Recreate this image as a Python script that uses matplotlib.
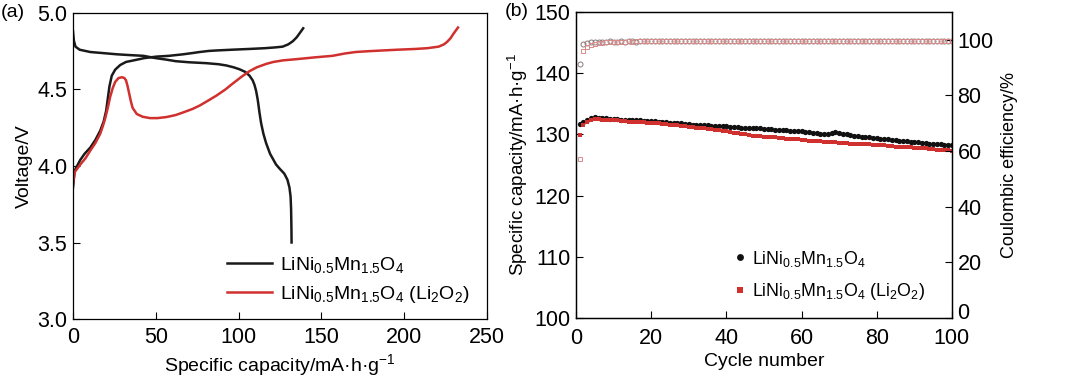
import numpy as np
import matplotlib
matplotlib.use("Agg")
import matplotlib.pyplot as plt
import matplotlib.transforms as mtransforms

plt.rcParams["font.family"] = ["Liberation Sans", "DejaVu Sans"]
plt.rcParams["mathtext.fontset"] = "custom"
plt.rcParams["mathtext.rm"] = "Liberation Sans"
plt.rcParams["mathtext.default"] = "regular"

RED = "#d0302e"

# (a) charge / discharge profiles
lnmo_chg_cap = [0, 1, 4.4, 7, 10.4, 13.5, 16.4, 18.5, 20, 21, 22, 23.4, 25.5, 28.5, 32, 36.5,
                43, 50.5, 58, 66.5, 72, 76.5, 82, 86.6, 96, 106.6, 116, 122, 126.6, 130,
                132.7, 135, 136.7, 139]
lnmo_chg_v = [3.86, 3.97, 4.04, 4.08, 4.12, 4.17, 4.23, 4.29, 4.36, 4.44, 4.52, 4.59, 4.63, 4.66,
              4.68, 4.69, 4.705, 4.715, 4.72, 4.73, 4.738, 4.745, 4.752, 4.755, 4.76, 4.765,
              4.77, 4.775, 4.78, 4.795, 4.815, 4.84, 4.865, 4.90]

lnmo_dis_cap = [0, 0.5, 1.5, 4, 10.4, 18, 26.5, 34, 42.5, 50, 56.5, 62, 70, 80.6, 88, 92.6, 97,
                100.6, 104, 106.6, 108.5, 109.6, 110.6, 111.6, 112.6, 113.6, 115, 116.6, 119,
                122.6, 125, 127.6, 129.5, 130.7, 131.4, 131.7, 131.9, 132]
lnmo_dis_v = [4.88, 4.82, 4.78, 4.76, 4.745, 4.738, 4.73, 4.725, 4.72, 4.705, 4.695, 4.685, 4.678,
              4.672, 4.665, 4.657, 4.645, 4.632, 4.615, 4.59, 4.56, 4.53, 4.49, 4.43, 4.35, 4.28,
              4.21, 4.15, 4.08, 4.01, 3.98, 3.95, 3.91, 3.86, 3.80, 3.72, 3.60, 3.50]

li2o2_chg_cap = [0, 1, 4.4, 7.5, 10.4, 13.5, 16.4, 18, 19.4, 21, 22.4, 24, 25.5, 27.5, 29.5, 31,
                 32, 33, 34, 35, 36, 38.5, 42, 46.5, 51, 56.5, 62, 66.5, 72, 76.5, 82, 86.6, 92,
                 96.6, 102, 106.6, 111, 116.6, 121, 126.6, 136.7, 146, 156.7, 164, 170.7, 178,
                 186.8, 196, 206.8, 214, 220.8, 224, 225.8, 228, 229.8, 232.5]
li2o2_chg_v = [3.88, 3.96, 4.01, 4.05, 4.10, 4.15, 4.21, 4.26, 4.31, 4.38, 4.45, 4.51, 4.55, 4.575,
               4.58, 4.575, 4.56, 4.52, 4.47, 4.42, 4.38, 4.34, 4.322, 4.313, 4.313, 4.32, 4.333,
               4.35, 4.372, 4.395, 4.43, 4.46, 4.50, 4.54, 4.585, 4.62, 4.645, 4.667, 4.68, 4.69,
               4.70, 4.71, 4.72, 4.735, 4.745, 4.75, 4.755, 4.76, 4.765, 4.77, 4.78, 4.795, 4.81,
               4.835, 4.865, 4.905]

# (b) cycling
cycles = list(range(1, 101))
lnmo_cap = [131.7, 132.0, 132.4, 132.6, 132.8, 132.7, 132.6, 132.6, 132.5, 132.5,
            132.5, 132.4, 132.4, 132.4, 132.3, 132.3, 132.3, 132.2, 132.2, 132.2,
            132.2, 132.1, 132.0, 132.0, 131.9, 131.9, 131.8, 131.8, 131.7, 131.7,
            131.6, 131.6, 131.5, 131.5, 131.5, 131.4, 131.4, 131.4, 131.3, 131.3,
            131.2, 131.2, 131.2, 131.1, 131.1, 131.1, 131.0, 131.0, 131.0, 130.9,
            130.9, 130.9, 130.8, 130.8, 130.7, 130.7, 130.6, 130.6, 130.5, 130.5,
            130.4, 130.4, 130.3, 130.2, 130.1, 130.0, 130.1, 130.3, 130.4, 130.3,
            130.1, 130.0, 129.9, 129.8, 129.7, 129.6, 129.6, 129.5, 129.4, 129.4,
            129.3, 129.3, 129.2, 129.1, 129.1, 129.0, 128.9, 128.9, 128.8, 128.8,
            128.7, 128.6, 128.6, 128.5, 128.5, 128.4, 128.4, 128.3, 128.3, 128.3]
li2o2_cap = [129.9, 131.6, 132.1, 132.4, 132.5, 132.5, 132.4, 132.4, 132.3, 132.3,
             132.3, 132.2, 132.2, 132.1, 132.1, 132.1, 132.0, 132.0, 131.9, 131.9,
             131.8, 131.8, 131.7, 131.7, 131.6, 131.5, 131.5, 131.4, 131.3, 131.2,
             131.2, 131.1, 131.0, 131.0, 130.9, 130.9, 130.8, 130.7, 130.6, 130.5,
             130.4, 130.3, 130.2, 130.1, 130.0, 129.9, 129.8, 129.7, 129.7, 129.6,
             129.6, 129.5, 129.5, 129.4, 129.4, 129.3, 129.3, 129.2, 129.2, 129.1,
             129.1, 129.0, 129.0, 128.9, 128.9, 128.8, 128.8, 128.7, 128.7, 128.6,
             128.6, 128.6, 128.5, 128.5, 128.5, 128.4, 128.4, 128.4, 128.3, 128.3,
             128.2, 128.2, 128.1, 128.1, 128.0, 128.0, 127.9, 127.9, 127.9, 127.8,
             127.8, 127.7, 127.7, 127.6, 127.6, 127.5, 127.5, 127.4, 127.4, 127.3]
lnmo_ce = [91.4, 98.4, 98.9, 99.1, 99.2, 99.3, 99.2, 99.3, 99.4, 99.3,
           99.3, 99.4, 99.3, 99.4, 99.4, 99.3, 99.4, 99.4, 99.5, 99.4,
           99.4, 99.5, 99.4, 99.4, 99.5, 99.4, 99.5, 99.5, 99.4, 99.5,
           99.5, 99.4, 99.5, 99.5, 99.5, 99.4, 99.5, 99.5, 99.6, 99.5,
           99.5, 99.5, 99.4, 99.5, 99.5, 99.6, 99.5, 99.5, 99.5, 99.6,
           99.5, 99.5, 99.6, 99.5, 99.5, 99.6, 99.5, 99.5, 99.6, 99.5,
           99.5, 99.6, 99.5, 99.6, 99.5, 99.5, 99.6, 99.5, 99.4, 99.5,
           99.6, 99.5, 99.6, 99.5, 99.6, 99.6, 99.5, 99.6, 99.5, 99.6,
           99.6, 99.5, 99.6, 99.6, 99.5, 99.6, 99.6, 99.5, 99.6, 99.6,
           99.5, 99.6, 99.6, 99.6, 99.5, 99.6, 99.6, 99.6, 99.5, 99.6]
li2o2_ce = [57.2, 95.8, 97.4, 98.1, 98.5, 98.8, 99.0, 99.1, 99.2, 99.2,
            99.3, 99.3, 99.3, 99.4, 99.3, 99.4, 99.4, 99.4, 99.5, 99.4,
            99.5, 99.5, 99.4, 99.5, 99.5, 99.5, 99.6, 99.5, 99.5, 99.6,
            99.5, 99.6, 99.6, 99.5, 99.6, 99.6, 99.6, 99.5, 99.6, 99.6,
            99.6, 99.7, 99.6, 99.6, 99.6, 99.7, 99.6, 99.6, 99.7, 99.6,
            99.7, 99.7, 99.6, 99.7, 99.7, 99.6, 99.7, 99.7, 99.7, 99.6,
            99.7, 99.7, 99.7, 99.6, 99.7, 99.7, 99.7, 99.7, 99.6, 99.7,
            99.7, 99.7, 99.6, 99.7, 99.7, 99.7, 99.7, 99.6, 99.7, 99.7,
            99.7, 99.7, 99.6, 99.7, 99.7, 99.7, 99.7, 99.6, 99.7, 99.7,
            99.7, 99.7, 99.7, 99.6, 99.7, 99.7, 99.7, 99.7, 99.6, 99.7]

LABEL_A = "LiNi$_{0.5}$Mn$_{1.5}$O$_4$"
LABEL_B = "LiNi$_{0.5}$Mn$_{1.5}$O$_4$ (Li$_2$O$_2$)"

TICK_FS = 15.5
LAB_FS = 14
LEG_FS = 14

fig = plt.figure(figsize=(10.8, 3.82), dpi=100)
ax1 = fig.add_axes([0.0676, 0.1649, 0.3833, 0.8011])
ax2 = fig.add_axes([0.5333, 0.1675, 0.3481, 0.8011])

# panel (a)
ax1.plot(lnmo_chg_cap, lnmo_chg_v, color="#1a1a1a", lw=1.8, label=LABEL_A)
ax1.plot(lnmo_dis_cap, lnmo_dis_v, color="#1a1a1a", lw=1.8)
ax1.plot(li2o2_chg_cap, li2o2_chg_v, color=RED, lw=1.8, label=LABEL_B)
ax1.set_xlim(0, 250)
ax1.set_ylim(3.0, 5.0)
ax1.set_xticks([0, 50, 100, 150, 200, 250])
ax1.set_yticks([3.0, 3.5, 4.0, 4.5, 5.0])
ax1.yaxis.set_major_formatter(matplotlib.ticker.FormatStrFormatter("%.1f"))
ax1.set_xlabel("Specific capacity/mA·h·g$^{-1}$", fontsize=LAB_FS, labelpad=3)
ax1.set_ylabel("Voltage/V", fontsize=LAB_FS, labelpad=3)
ax1.legend(loc="lower right", frameon=False, fontsize=LEG_FS, handlelength=2.3,
           handletextpad=0.4, labelspacing=0.45, bbox_to_anchor=(1.0, -0.01))
ax1.text(-0.175, 1.0, "(a)", transform=ax1.transAxes, fontsize=LAB_FS, va="center", ha="left")

# panel (b)
ax2.plot(cycles, lnmo_cap, "o", color="#111111", ms=3.8, mew=0, label=LABEL_A)
ax2.plot(cycles, li2o2_cap, "s", color=RED, ms=3.4, mew=0, label=LABEL_B)
ax2.set_xlim(0, 100)
ax2.set_ylim(100, 150)
ax2.set_xticks([0, 20, 40, 60, 80, 100])
ax2.set_yticks([100, 110, 120, 130, 140, 150])
ax2.set_xlabel("Cycle number", fontsize=LAB_FS, labelpad=3)
ax2.set_ylabel("Specific capacity/mA·h·g$^{-1}$", fontsize=13.5, labelpad=3)
ax2.legend(loc="lower right", frameon=False, fontsize=12.8, handlelength=0.6,
           handletextpad=0.4, labelspacing=0.7, bbox_to_anchor=(0.972, 0.0), markerscale=1.3)
ax2.text(-0.19, 1.0, "(b)", transform=ax2.transAxes, fontsize=LAB_FS, va="center", ha="left")

ax3 = ax2.twinx()
ax3.plot(cycles, lnmo_ce, "o", mfc="none", mec="#8a7a7a", ms=3.6, mew=0.7)
ax3.plot(cycles, li2o2_ce, "s", mfc="none", mec="#d88a8a", ms=3.4, mew=0.7)
ax3.set_ylim(0, 110)
ax3.set_yticks([0, 20, 40, 60, 80, 100])
ax3.set_ylabel("Coulombic efficiency/%", fontsize=13, labelpad=5)

for ax in (ax1, ax2, ax3):
    ax.tick_params(direction="in", length=5, width=0.8, labelsize=TICK_FS, pad=4)
    for sp in ax.spines.values():
        sp.set_linewidth(0.9)
ax2.tick_params(axis="y", right=False)
ax2.tick_params(axis="x", pad=7)
ax1.tick_params(top=False, right=False)
ax1.tick_params(axis="x", pad=6)

# lift the right-axis "0" a little so it clears the x-axis "100"
zero_lbl = ax3.yaxis.get_major_ticks()[0].label2
zero_lbl.set_transform(zero_lbl.get_transform() +
                       mtransforms.ScaledTranslation(0, 5 / 72, fig.dpi_scale_trans))

fig.savefig("out.png", dpi=100)
